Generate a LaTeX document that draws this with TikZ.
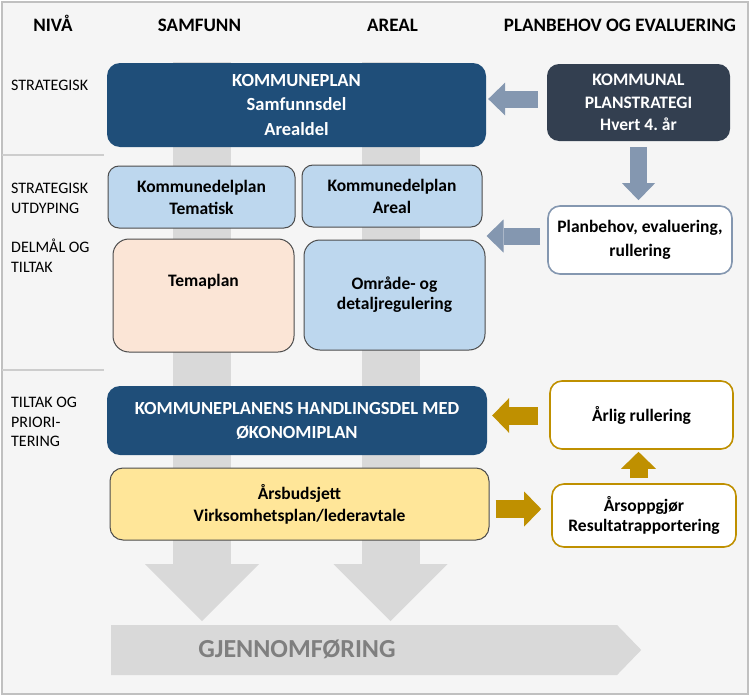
\documentclass[tikz,border=0pt]{standalone}
\usepackage{fontspec}
\setmainfont{Carlito}
\usetikzlibrary{arrows.meta, calc, positioning, shapes.arrows}

\definecolor{bgcol}{HTML}{F5F5F5}
\definecolor{framecol}{HTML}{C0C0C0}
\definecolor{kpblue}{HTML}{1F4E79}
\definecolor{slate}{HTML}{333F50}
\definecolor{pilblue}{HTML}{8497B0}
\definecolor{lysblue}{HTML}{BDD7EE}
\definecolor{fersken}{HTML}{FBE5D6}
\definecolor{gul}{HTML}{FFE699}
\definecolor{gull}{HTML}{BF9000}
\definecolor{kolgray}{HTML}{D9D9D9}
\definecolor{gjgray}{HTML}{7F7F7F}

\begin{document}
\begin{tikzpicture}[x=1pt,y=-1pt,
	boks/.style={rectangle,align=center,inner sep=2pt,font=\fontsize{17.5}{22}\selectfont\bfseries},
	mork/.style={boks,fill=kpblue,text=white,rounded corners=13pt,font=\fontsize{18.5}{25}\selectfont\bfseries},
	strat/.style={boks,fill=slate,text=white,rounded corners=12pt,font=\fontsize{17.5}{22.5}\selectfont\bfseries},
	lys/.style={boks,fill=#1,draw=black!70,line width=1pt,rounded corners=11pt},
	hvit/.style={boks,fill=white,draw=#1,line width=1.6pt,rounded corners=12pt},
	nivaa/.style={align=left,anchor=north west,inner sep=0pt,font=\fontsize{16}{19.5}\selectfont},
	kolonne/.style={anchor=base,inner sep=0pt,font=\fontsize{19}{23}\selectfont\bfseries},
	blapil/.style={draw=pilblue,line width=17pt,-{Triangle[length=17pt,width=33pt,line width=0pt]}},
	gullpil/.style={draw=gull,line width=18pt,-{Triangle[length=17pt,width=35pt,line width=0pt]}},
	kolpil/.style={draw=kolgray,line width=58pt,-{Triangle[length=57pt,width=114pt,line width=0pt]}}
]
	\useasboundingbox (0,0) rectangle (750,696);
	\draw[fill=bgcol,draw=framecol,line width=1.5pt] (2,2) rectangle (748,694);
	\draw[framecol!80,line width=1.5pt] (2,155) -- (104,155);
	\draw[framecol!80,line width=1.5pt] (2,370) -- (104,370);

	% kolonner
	\node[kolonne] (niva) at (53,31) {NIVÅ};
	\node[kolonne] (samf) at (199.5,31) {SAMFUNN};
	\node[kolonne] (areal) at (392.5,31) {AREAL};
	\node[kolonne] (planev) at (620,31) {PLANBEHOV OG EVALUERING};

	\node[nivaa] (n1) at (11,80) {STRATEGISK};
	\node[nivaa] (n2) at (11,183) {STRATEGISK\\UTDYPING};
	\node[nivaa] (n3) at (11,239) {DELMÅL OG\\TILTAK};
	\node[nivaa] (n4) at (11,397) {TILTAK OG\\PRIORI-\\TERING};

	% gjennomfoering
	\node[single arrow,single arrow head extend=0pt,single arrow tip angle=92,fill=kolgray,
		minimum height=530pt,minimum width=50pt,inner sep=0pt,anchor=tail] (gjen) at (111,650) {};
	\node[font=\fontsize{26}{30}\selectfont\bfseries,text=gjgray,inner sep=0pt] (gjtxt) at (297,649) {GJENNOMFØRING};
	\coordinate (kolS) at (202,62);
	\coordinate (kolA) at (390.5,62);
	\draw[kolpil] (kolS) -- ($(kolS |- gjen.tail)+(0,-29)$);
	\draw[kolpil] (kolA) -- ($(kolA |- gjen.tail)+(0,-29)$);

	% bokser
	\node[mork,minimum width=379pt,minimum height=84pt] (kplan) at (296.5,105) {KOMMUNEPLAN\\Samfunnsdel\\Arealdel};
	\node[strat,minimum width=183pt,minimum height=77pt] (kstrat) at (638.5,102.5) {KOMMUNAL\\PLANSTRATEGI\\Hvert 4.\ år};
	\node[hvit=pilblue,minimum width=184pt,minimum height=68pt,font=\fontsize{17.5}{24}\selectfont\bfseries] (planb) at (640,240) {Planbehov, evaluering,\\rullering};
	\node[lys=lysblue,minimum width=187pt,minimum height=62pt] (kdt) at (201.5,197) {Kommunedelplan\\Tematisk};
	\node[lys=lysblue,minimum width=180pt,minimum height=62pt] (kda) at (392,196) {Kommunedelplan\\Areal};
	\node[lys=fersken,minimum width=181pt,minimum height=113pt,rounded corners=16pt,text depth=30pt] (tema) at (203.5,295.5) {Temaplan};
	\node[lys=lysblue,minimum width=181pt,minimum height=110pt,rounded corners=16pt,font=\fontsize{17.5}{20}\selectfont\bfseries] (omr) at (394.5,295) {Område- og\\detaljregulering};
	\node[mork,minimum width=380pt,minimum height=69pt,font=\fontsize{18.5}{24}\selectfont\bfseries] (hdel) at (297,420.5) {KOMMUNEPLANENS HANDLINGSDEL MED\\ØKONOMIPLAN};
	\node[hvit=gull,minimum width=183pt,minimum height=68pt] (arlig) at (641.5,415) {Årlig rullering};
	\node[hvit=gull,minimum width=184pt,minimum height=63pt,font=\fontsize{17.5}{20}\selectfont\bfseries] (arsopp) at (644,515.5) {Årsoppgjør\\Resultatrapportering};
	\node[lys=gul,minimum width=379pt,minimum height=72pt,rounded corners=13pt] (budsj) at (299.5,504) {Årsbudsjett\\Virksomhetsplan/lederavtale};

	% piler
	\draw[blapil] ($(kstrat.west)+(-9,-3.5)$) -- ($(kstrat.west -| kplan.east)+(2,-3.5)$);
	\draw[blapil] ($(kstrat.south)+(0,6)$) -- ($(kstrat.south |- planb.north)+(0,-5)$);
	\draw[blapil] ($(planb.west)+(-7,-4)$) -- ($(planb.west -| omr.east)+(1,-4)$);
	\draw[gullpil] ($(arlig.west)+(-11,0.5)$) -- ($(arlig.west -| hdel.east)+(5,0.5)$);
	\draw[gullpil] ($(arsopp.north)+(-5.5,-5)$) -- ($(arsopp.north |- arlig.south)+(-5.5,2)$);
	\draw[gullpil] ($(budsj.east)+(6,5)$) -- ($(budsj.east -| arsopp.west)+(-10,5)$);
\end{tikzpicture}
\end{document}
